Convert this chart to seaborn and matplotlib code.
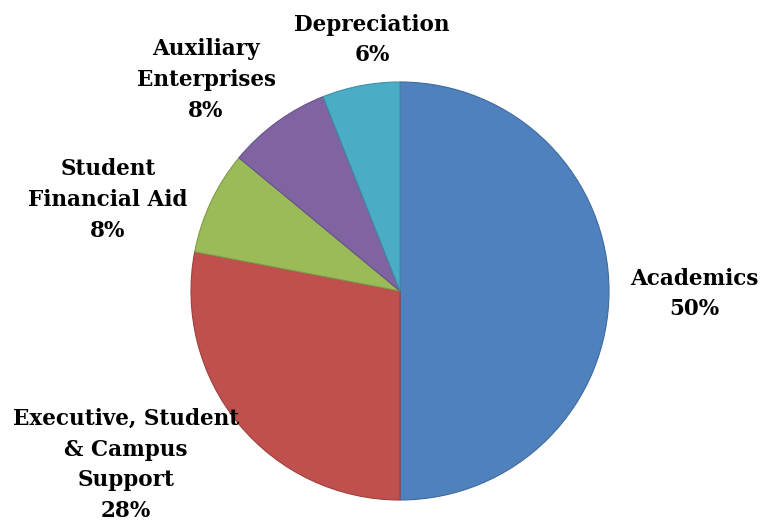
import matplotlib
matplotlib.use('Agg')
import matplotlib.pyplot as plt
import seaborn as sns

sns.set_theme(style='white')
plt.rcParams['font.family'] = ['DejaVu Serif']

categories = ['Academics', 'Executive, Student\n& Campus\nSupport', 'Student\nFinancial Aid',
              'Auxiliary\nEnterprises', 'Depreciation']
values = [50, 28, 8, 8, 6]
colors = ['#4F81BD', '#C0504D', '#9BBB59', '#8064A2', '#4BACC6']
edges = ['#3F6A9E', '#9E3F3C', '#7F9A48', '#67518A', '#3B8FA6']

# label centres in pixels (x, y from top)
label_pos = [(694, 294), (126, 465), (108, 200), (206, 80), (372, 40)]

W, H = 761, 523
fig = plt.figure(figsize=(W / 100, H / 100), dpi=100)
cx, cy, r = 400, 291, 209
ax = fig.add_axes([(cx - r) / W, (H - cy - r) / H, 2 * r / W, 2 * r / H])

wedges, _ = ax.pie(values, colors=colors, startangle=90, counterclock=False,
                   radius=1, wedgeprops=dict(linewidth=0.8))
for w, e in zip(wedges, edges):
    w.set_edgecolor(e)
ax.set_xlim(-1, 1)
ax.set_ylim(-1, 1)
ax.set_aspect('equal')
ax.axis('off')

for name, v, (px, py) in zip(categories, values, label_pos):
    fig.text(px / W, 1 - py / H, f'{name}\n{v}%', ha='center', va='center',
             fontsize=15.5, fontweight='bold', linespacing=1.52, color='black')

fig.savefig('out.png', dpi=100, facecolor='white')
